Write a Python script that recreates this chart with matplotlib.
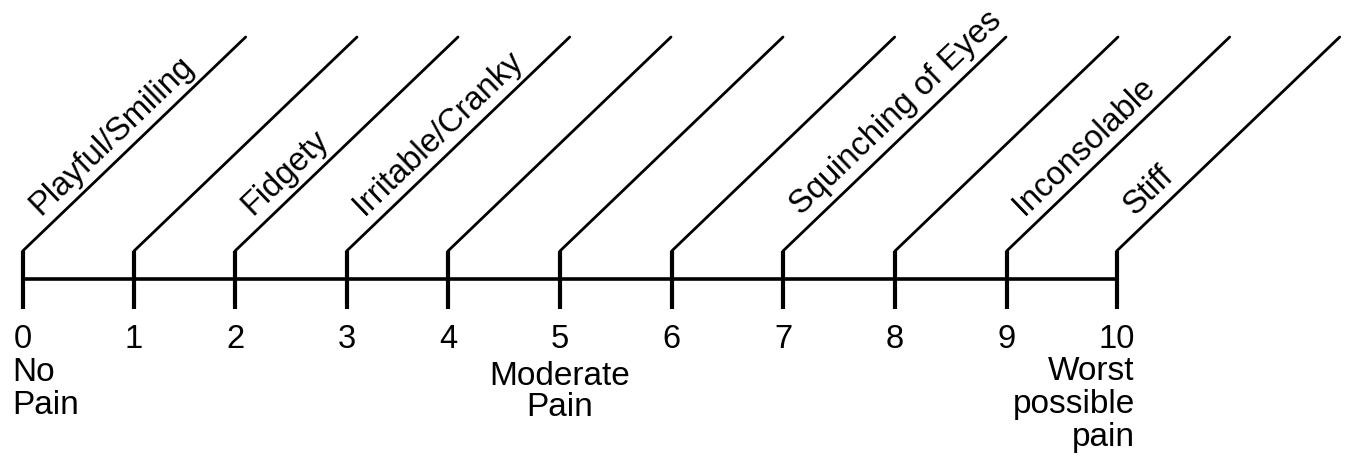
import numpy as np
import matplotlib.pyplot as plt

plt.rcParams['font.family'] = ['Liberation Sans', 'DejaVu Sans']

# pain scale values and what each point on the scale is called
scores = [0, 1, 2, 3, 4, 5, 6, 7, 8, 9, 10]
behaviours = ["Playful/Smiling", "", "Fidgety", "Irritable/Cranky", "", "",
              "", "Squinching of Eyes", "", "Inconsolable", "Stiff"]
anchor_scores = [0, 5, 10]
anchor_labels = ["No\nPain", "Moderate\nPain", "Worst\npossible\npain"]

# layout (figure pixels): where each score sits along the line
tick_x = [22.7, 134, 235, 346.7, 448, 560, 671.7, 783, 895, 1006.7, 1116.7]
axis_y = 280
tick_top, tick_bottom = 252, 310
diag_dx, diag_top = 223, 38

fig = plt.figure(figsize=(13.46, 4.6), dpi=100)
ax = fig.add_axes([0, 0, 1, 1])
ax.set_xlim(0, 1346)
ax.set_ylim(460, 0)
ax.axis('off')

# main scale line
ax.plot([tick_x[0], tick_x[-1]], [axis_y, axis_y], color='black', lw=2.6,
        solid_capstyle='butt')

angle = np.degrees(np.arctan2(tick_top - diag_top, diag_dx))
ux, uy = np.cos(np.radians(angle)), -np.sin(np.radians(angle))
nx, ny = -np.sin(np.radians(angle)), -np.cos(np.radians(angle))
along, perp = 38, 14

for s, x, lab in zip(scores, tick_x, behaviours):
    ax.plot([x, x], [tick_bottom, tick_top], color='black', lw=3.0,
            solid_capstyle='butt')
    ax.plot([x, x + diag_dx], [tick_top, diag_top], color='black', lw=2.0,
            solid_capstyle='round')
    ax.text(x, 348, str(s), ha='center', va='baseline', fontsize=23.5)
    if lab:
        ax.text(x + along * ux + perp * nx, tick_top + along * uy + perp * ny,
                lab, rotation=angle, rotation_mode='anchor',
                ha='left', va='baseline', fontsize=23.5)

for s, lab in zip(anchor_scores, anchor_labels):
    x = tick_x[scores.index(s)]
    if s == 0:
        ax.text(x - 10, 357, lab, ha='left', va='top', fontsize=24,
                linespacing=1.08)
    elif s == 10:
        ax.text(x + 18, 356, lab, ha='right', va='top', fontsize=24,
                linespacing=1.08, multialignment='right')
    else:
        ax.text(x, 361, lab, ha='center', va='top', fontsize=24,
                linespacing=1.0, multialignment='center')

fig.savefig('out.png', dpi=100)
